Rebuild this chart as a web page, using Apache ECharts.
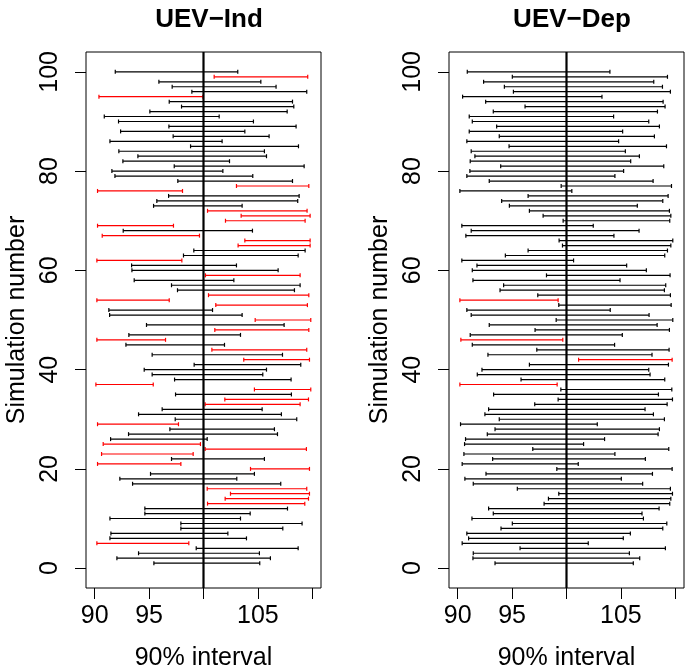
<!DOCTYPE html>
<html>
<head>
<meta charset="utf-8">
<script src="https://cdn.jsdelivr.net/npm/echarts@6/dist/echarts.min.js"></script>
<style>
  html, body { margin: 0; padding: 0; background: #fff; }
  #chart { width: 685px; height: 667px; }
</style>
</head>
<body>
<div id="chart"></div>
<script>
// 90% intervals, simulation 1 .. 100
var lowerInd = [
  95.44, 92.04, 94.03, 99.33, 90.20, 91.40, 91.49, 97.92, 97.92, 91.40,
  94.61, 94.61, 100.37, 101.99, 102.48, 100.34, 93.48, 92.31, 95.13, 104.32,
  90.26, 97.06, 90.63, 100.15, 90.78, 91.46, 93.11, 96.91, 90.26, 97.40,
  94.03, 96.20, 100.15, 101.96, 97.43, 104.68, 90.11, 97.34, 95.28, 94.55,
  99.14, 103.70, 95.28, 100.77, 92.87, 90.20, 93.14, 101.04, 94.76, 104.75,
  91.37, 91.30, 101.13, 90.20, 100.46, 97.61, 97.06, 93.63, 100.18, 93.42,
  93.39, 90.20, 98.16, 99.11, 103.18, 103.80, 90.69, 92.62, 90.26, 102.02,
  103.46, 100.37, 95.41, 95.71, 96.79, 90.26, 103.03, 97.64, 91.86, 91.58,
  97.31, 92.59, 93.97, 92.22, 98.81, 91.40, 97.21, 92.38, 96.82, 92.19,
  90.88, 95.07, 97.98, 96.85, 90.39, 98.93, 97.12, 95.90, 100.98, 91.89
]
var upperInd = [
  105.17, 106.15, 105.14, 108.70, 98.65, 103.95, 102.24, 107.29, 109.06, 103.40,
  104.29, 107.72, 109.31, 109.65, 109.74, 109.49, 107.10, 103.06, 104.68, 109.74,
  97.92, 105.60, 99.05, 109.46, 99.72, 100.34, 106.80, 106.52, 97.70, 108.57,
  107.16, 105.39, 108.88, 109.65, 108.08, 109.86, 95.38, 108.05, 105.45, 105.79,
  108.94, 109.74, 107.26, 109.49, 101.93, 96.51, 103.40, 109.68, 107.41, 109.86,
  103.55, 100.83, 109.55, 96.85, 109.68, 108.36, 108.88, 102.79, 108.88, 106.86,
  103.03, 98.01, 108.70, 109.34, 109.80, 109.80, 99.63, 104.50, 97.24, 109.34,
  109.80, 109.52, 103.55, 108.66, 108.79, 98.07, 109.68, 108.18, 104.53, 101.78,
  109.25, 102.39, 105.79, 105.60, 108.73, 101.71, 106.03, 103.80, 108.51, 104.59,
  101.44, 107.69, 108.30, 108.18, 99.94, 109.49, 106.67, 105.27, 109.58, 103.15
]
var lowerDep = [
  93.43, 91.40, 91.43, 95.73, 90.41, 91.00, 90.84, 93.98, 95.02, 91.31,
  93.27, 92.84, 97.94, 98.34, 99.29, 95.48, 91.43, 90.66, 92.60, 99.11,
  90.41, 93.21, 90.57, 96.90, 90.63, 90.72, 92.72, 93.43, 90.26, 93.82,
  92.50, 92.84, 97.08, 99.23, 93.30, 99.48, 90.20, 95.82, 91.80, 92.23,
  96.59, 101.11, 92.78, 97.27, 91.34, 90.29, 91.15, 97.11, 92.90, 99.05,
  91.24, 90.84, 99.29, 90.20, 97.36, 93.89, 94.22, 91.40, 98.16, 91.34,
  91.77, 90.38, 94.38, 96.47, 99.63, 99.32, 90.75, 91.24, 90.38, 99.69,
  97.85, 96.59, 94.75, 94.04, 96.47, 90.20, 99.51, 92.90, 90.84, 91.12,
  93.95, 91.15, 91.58, 91.24, 94.72, 90.84, 93.82, 91.06, 93.58, 91.34,
  91.06, 93.27, 96.19, 92.57, 90.45, 95.12, 94.29, 92.38, 95.02, 90.88
]
var upperDep = [
  106.14, 106.73, 105.78, 109.09, 102.00, 105.22, 105.87, 108.85, 109.22, 107.07,
  106.94, 108.51, 109.49, 109.59, 109.74, 109.55, 107.00, 105.04, 107.90, 109.71,
  101.08, 107.25, 104.45, 109.40, 101.57, 103.50, 108.42, 108.54, 102.83, 109.00,
  107.99, 107.22, 109.25, 109.74, 108.45, 109.68, 99.14, 109.03, 107.68, 107.56,
  109.37, 109.71, 107.86, 109.43, 104.42, 99.66, 105.13, 109.46, 108.33, 109.77,
  107.59, 104.02, 109.62, 99.23, 109.55, 109.00, 109.12, 104.92, 109.52, 107.34,
  105.53, 100.65, 109.03, 109.28, 109.59, 109.77, 104.36, 106.67, 102.46, 109.49,
  109.59, 109.46, 106.51, 108.85, 109.34, 100.49, 109.65, 107.96, 104.45, 105.25,
  108.94, 105.90, 106.70, 105.41, 109.19, 104.79, 108.08, 105.16, 108.54, 107.56,
  104.33, 108.36, 109.06, 108.88, 103.26, 109.55, 108.82, 108.02, 109.28, 103.99
]
var trueValue = 100
var xTicks = [90, 95, 100, 105, 110]
var xLabels = [90, 95, 105]
var yTicks = [0, 20, 40, 60, 80, 100]
var titles = ['UEV\u2212Ind', 'UEV\u2212Dep']

var FONT = '"Liberation Sans", Arial, Helvetica, sans-serif'

function toRows(lower, upper) {
  return lower.map(function (lo, i) {
    return [i + 1, lo, upper[i]]
  })
}

// one interval = horizontal segment with small end caps, red when it misses the true value
function renderInterval(params, api) {
  var y = api.value(0)
  var lo = api.value(1)
  var hi = api.value(2)
  var a = api.coord([lo, y])
  var b = api.coord([hi, y])
  var miss = lo > trueValue || hi < trueValue
  var style = { stroke: miss ? '#ff0000' : '#000000', lineWidth: 1.2 }
  var cap = 2
  return {
    type: 'group',
    children: [
      { type: 'line', shape: { x1: a[0], y1: a[1], x2: b[0], y2: b[1] }, style: style },
      { type: 'line', shape: { x1: a[0], y1: a[1] - cap, x2: a[0], y2: a[1] + cap }, style: style },
      { type: 'line', shape: { x1: b[0], y1: b[1] - cap, x2: b[0], y2: b[1] + cap }, style: style }
    ]
  }
}

function xAxisFor(idx) {
  return {
    type: 'value',
    gridIndex: idx,
    min: 89.2,
    max: 110.8,
    name: '90% interval',
    nameLocation: 'middle',
    nameGap: 58,
    nameTextStyle: { fontFamily: FONT, fontSize: 25, color: '#000' },
    axisLine: { show: false, onZero: false },
    splitLine: { show: false },
    axisTick: { show: true, length: 11, customValues: xTicks, lineStyle: { color: '#000', width: 1 } },
    axisLabel: { customValues: xLabels, fontFamily: FONT, fontSize: 25, color: '#000', margin: 16 }
  }
}

function yAxisFor(idx) {
  return {
    type: 'value',
    gridIndex: idx,
    min: -4,
    max: 104,
    name: 'Simulation number',
    nameLocation: 'middle',
    nameGap: 56,
    nameTextStyle: { fontFamily: FONT, fontSize: 25, color: '#000' },
    axisLine: { show: false, onZero: false },
    splitLine: { show: false },
    axisTick: { show: true, length: 11, customValues: yTicks, lineStyle: { color: '#000', width: 1 } },
    axisLabel: { customValues: yTicks, rotate: 90, fontFamily: FONT, fontSize: 25, color: '#000', margin: 23 }
  }
}

function seriesFor(idx, lower, upper) {
  return [
    {
      type: 'custom',
      xAxisIndex: idx,
      yAxisIndex: idx,
      renderItem: renderInterval,
      encode: { x: [1, 2], y: 0 },
      data: toRows(lower, upper),
      clip: false,
      silent: true
    },
    {
      // abline(v = 100)
      type: 'line',
      xAxisIndex: idx,
      yAxisIndex: idx,
      data: [[trueValue, -4], [trueValue, 104]],
      symbol: 'none',
      silent: true,
      lineStyle: { color: '#000', width: 2.2 },
      z: 3
    }
  ]
}

// fixed panel boxes; v6 would otherwise shrink them to keep labels inside
var gridBase = { top: 52, width: 235, height: 536, show: true, borderColor: '#000', borderWidth: 1,
  containLabel: false, outerBoundsMode: 'none' }

var chart = echarts.init(document.getElementById('chart'), null, { renderer: 'canvas' })
chart.setOption({
  animation: false,
  backgroundColor: '#fff',
  title: [
    { text: titles[0], left: 204, top: 2, textAlign: 'center',
      textStyle: { fontFamily: FONT, fontSize: 26, fontWeight: 'bold', color: '#000' } },
    { text: titles[1], left: 567, top: 2, textAlign: 'center',
      textStyle: { fontFamily: FONT, fontSize: 26, fontWeight: 'bold', color: '#000' } }
  ],
  grid: [
    Object.assign({ left: 86 }, gridBase),
    Object.assign({ left: 449 }, gridBase)
  ],
  xAxis: [xAxisFor(0), xAxisFor(1)],
  yAxis: [yAxisFor(0), yAxisFor(1)],
  series: seriesFor(0, lowerInd, upperInd).concat(seriesFor(1, lowerDep, upperDep))
})
</script>
</body>
</html>
